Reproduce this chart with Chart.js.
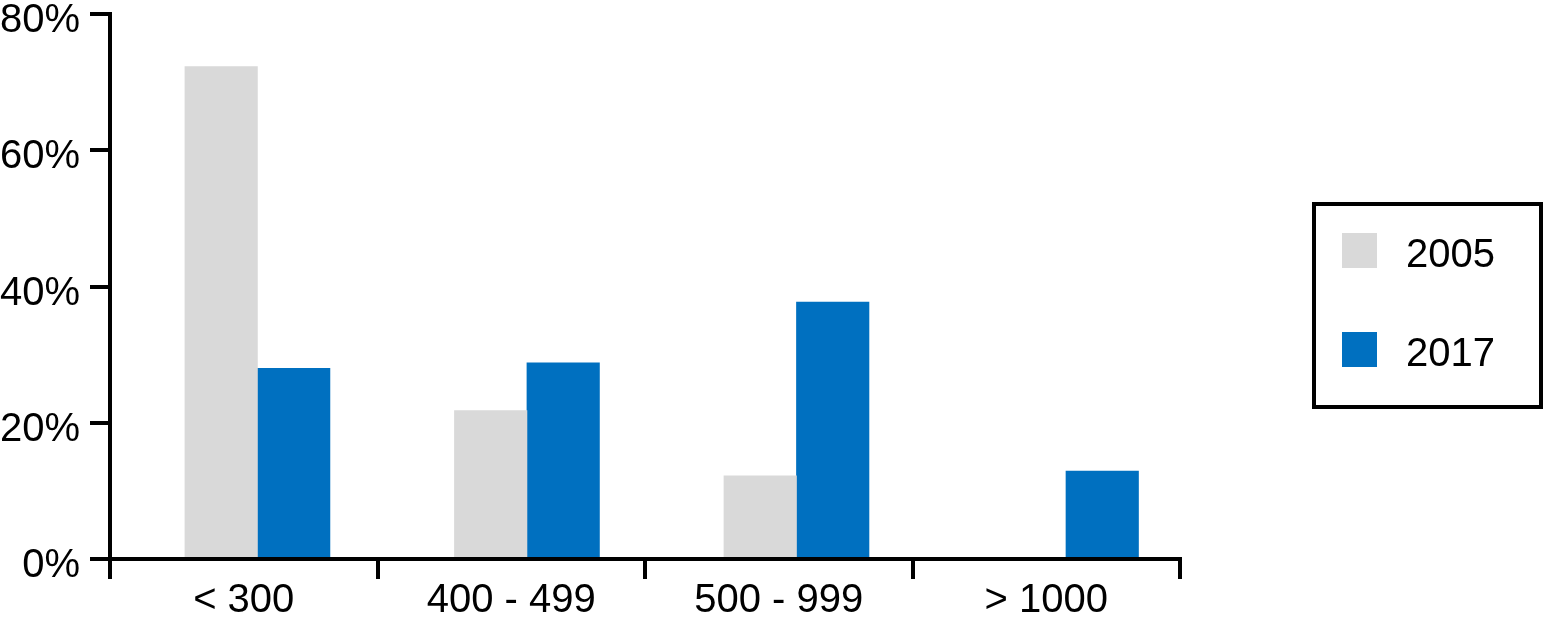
<!DOCTYPE html>
<html>
<head>
<meta charset="utf-8">
<script src="https://cdn.jsdelivr.net/npm/chart.js@4.4.1/dist/chart.umd.min.js"></script>
<style>
  html, body { margin: 0; padding: 0; background: #fff; }
  #wrap { width: 1544px; height: 622px; }
</style>
</head>
<body>
<div id="wrap"><canvas id="chart"></canvas></div>
<script>
  // price bands and share of listings per year
  var categories = ['< 300', '400 - 499', '500 - 999', '> 1000'];
  var seriesNames = ['2005', '2017'];
  var share2005 = [72.3, 21.8, 12.2, 0];
  var share2017 = [28.0, 28.8, 37.7, 12.9];
  var yTicks = [0, 20, 40, 60, 80];

  var grey = '#D9D9D9';
  var blue = '#0070C0';
  var font = '"Liberation Sans", Arial, Helvetica, sans-serif';

  function points(values) {
    return values.map(function (v, i) { return { x: i, y: v }; });
  }

  // legend drawn as a framed box to the right of the plot
  var boxLegend = {
    id: 'boxLegend',
    afterDraw: function (chart) {
      var ctx = chart.ctx;
      ctx.save();
      ctx.lineWidth = 4;
      ctx.strokeStyle = '#000';
      ctx.strokeRect(1314, 204, 227, 203);
      ctx.font = '40px ' + font;
      ctx.textBaseline = 'alphabetic';
      chart.data.datasets.forEach(function (ds, i) {
        var top = 233 + i * 99;
        ctx.fillStyle = ds.backgroundColor;
        ctx.fillRect(1342, top, 35, 35);
        ctx.fillStyle = '#000';
        ctx.fillText(ds.label, 1406, top + 34);
      });
      ctx.restore();
    }
  };

  var ctx = document.getElementById('chart').getContext('2d');
  window.shareChart = new Chart(ctx, {
    type: 'bar',
    data: {
      labels: categories,
      datasets: [
        { label: seriesNames[0], data: points(share2005), backgroundColor: grey, xAxisID: 'xb' },
        { label: seriesNames[1], data: points(share2017), backgroundColor: blue, xAxisID: 'xb' }
      ]
    },
    options: {
      responsive: true,
      maintainAspectRatio: false,
      animation: false,
      barThickness: 72.5,
      layout: { padding: { top: 0, right: 364, left: 0, bottom: 0 } },
      plugins: {
        legend: { display: false },
        tooltip: { enabled: false }
      },
      scales: {
        xb: {
          type: 'linear',
          display: false,
          offset: false,
          min: -0.547,
          max: 3.423,
          grid: { offset: false }
        },
        x: {
          type: 'category',
          offset: true,
          grid: {
            offset: true,
            drawOnChartArea: false,
            drawTicks: true,
            tickLength: 20,
            lineWidth: 4,
            color: '#000'
          },
          border: { display: true, color: '#000', width: 4, z: 1 },
          ticks: {
            color: '#000',
            padding: 2,
            maxRotation: 0,
            font: { family: font, size: 40, lineHeight: 1 }
          },
          afterFit: function (scale) { scale.height = 63; }
        },
        y: {
          min: 0,
          max: 80,
          afterBuildTicks: function (scale) {
            scale.ticks = yTicks.map(function (v) { return { value: v }; });
          },
          grid: {
            drawOnChartArea: false,
            drawTicks: true,
            tickLength: 20,
            lineWidth: 4,
            color: '#000'
          },
          border: { display: true, color: '#000', width: 4 },
          ticks: {
            color: '#000',
            padding: 10,
            labelOffset: 7,
            font: { family: font, size: 40 },
            callback: function (v) { return v + '%'; }
          },
          afterFit: function (scale) {
            scale.width = 110;
            scale.paddingTop = 14;
          }
        }
      }
    },
    plugins: [boxLegend]
  });
</script>
</body>
</html>
